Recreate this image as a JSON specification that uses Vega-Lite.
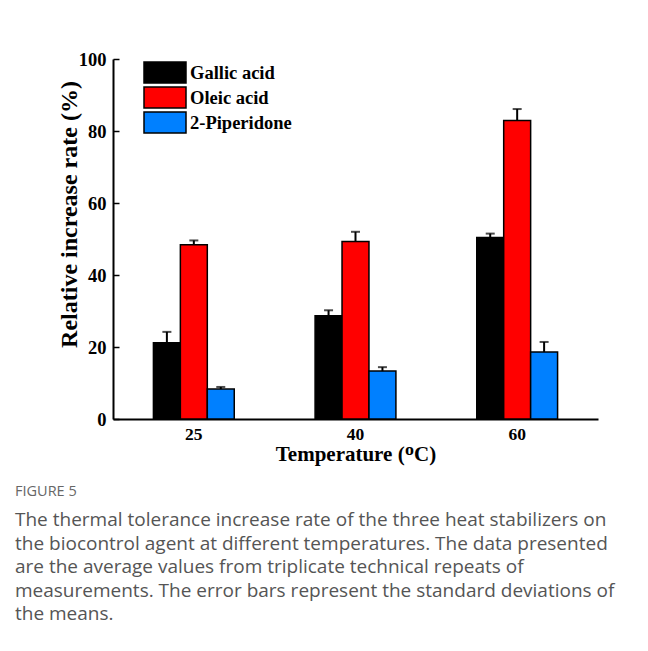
{
  "$schema": "https://vega.github.io/schema/vega-lite/v6.json",
  "autosize": {"type": "none"},
  "padding": {"left": 113, "top": 59, "right": 50, "bottom": 232},
  "width": 485,
  "height": 360,
  "background": "white",
  "config": {
    "view": {"stroke": null},
    "font": "Liberation Serif"
  },
  "title": {
    "text": "FIGURE 5",
    "subtitle": [
      "The thermal tolerance increase rate of the three heat stabilizers on",
      "the biocontrol agent at different temperatures. The data presented",
      "are the average values from triplicate technical repeats of",
      "measurements. The error bars represent the standard deviations of",
      "the means."
    ],
    "orient": "bottom",
    "anchor": "start",
    "frame": "group",
    "dx": -98,
    "offset": 20,
    "font": "Open Sans",
    "fontSize": 14.5,
    "fontWeight": "normal",
    "color": "#666666",
    "subtitleFont": "Open Sans",
    "subtitleFontSize": 19,
    "subtitleColor": "#555555",
    "subtitleLineHeight": 23.6,
    "subtitlePadding": 12
  },
  "data": {
    "values": [
      {"temp": "25", "compound": "Gallic acid", "mean": 21.2, "hi": 24.2},
      {"temp": "25", "compound": "Oleic acid", "mean": 48.4, "hi": 49.6},
      {"temp": "25", "compound": "2-Piperidone", "mean": 8.3, "hi": 8.9},
      {"temp": "40", "compound": "Gallic acid", "mean": 28.7, "hi": 30.2},
      {"temp": "40", "compound": "Oleic acid", "mean": 49.3, "hi": 52.0},
      {"temp": "40", "compound": "2-Piperidone", "mean": 13.3, "hi": 14.4},
      {"temp": "60", "compound": "Gallic acid", "mean": 50.4, "hi": 51.5},
      {"temp": "60", "compound": "Oleic acid", "mean": 82.9, "hi": 86.1},
      {"temp": "60", "compound": "2-Piperidone", "mean": 18.6, "hi": 21.4}
    ]
  },
  "encoding": {
    "x": {
      "field": "temp",
      "type": "nominal",
      "sort": ["25", "40", "60"],
      "scale": {"paddingInner": 0.5, "paddingOuter": 0.25},
      "axis": {
        "title": "Temperature (ᴼC)",
        "titleFont": "Liberation Serif",
        "titleFontSize": 21,
        "titleFontWeight": "bold",
        "titleColor": "black",
        "titlePadding": 1,
        "labelAngle": 0,
        "labelFont": "Liberation Serif",
        "labelFontSize": 17.5,
        "labelFontWeight": "bold",
        "labelColor": "black",
        "labelPadding": 11,
        "domainColor": "black",
        "domainWidth": 2,
        "tickColor": "black",
        "tickWidth": 1.5,
        "tickSize": -5
      }
    },
    "xOffset": {
      "field": "compound",
      "type": "nominal",
      "sort": ["Gallic acid", "Oleic acid", "2-Piperidone"],
      "scale": {"paddingInner": 0, "paddingOuter": 0}
    }
  },
  "layer": [
    {
      "mark": {"type": "bar", "stroke": "black", "strokeWidth": 1.5},
      "encoding": {
        "y": {
          "field": "mean",
          "type": "quantitative",
          "scale": {"domain": [0, 100], "nice": false},
          "axis": {
            "title": "Relative increase rate (%)",
            "titleFont": "Liberation Serif",
            "titleFontSize": 24,
            "titleFontWeight": "bold",
            "titleColor": "black",
            "titleY": 155,
            "titleX": -32,
            "titleBaseline": "bottom",
            "values": [0, 10, 20, 30, 40, 50, 60, 70, 80, 90, 100],
            "labelExpr": "datum.value % 20 === 0 ? datum.label : ''",
            "labelFont": "Liberation Serif",
            "labelFontSize": 18.5,
            "labelFontWeight": "bold",
            "labelColor": "black",
            "labelPadding": 13,
            "domainColor": "black",
            "domainWidth": 2,
            "tickColor": "black",
            "tickWidth": 1.5,
            "tickSize": {"condition": {"test": "datum.value % 20 === 0", "value": -6}, "value": -4},
            "grid": false
          }
        },
        "color": {
          "field": "compound",
          "type": "nominal",
          "sort": ["Gallic acid", "Oleic acid", "2-Piperidone"],
          "scale": {"domain": ["Gallic acid", "Oleic acid", "2-Piperidone"], "range": ["#000000", "#ff0000", "#0080ff"]},
          "legend": {
            "title": null,
            "orient": "none",
            "legendX": 40.5,
            "legendY": 2,
            "symbolType": "M-2,-1H2V1H-2Z",
            "symbolSize": 441,
            "symbolStrokeColor": "black",
            "symbolStrokeWidth": 1.5,
            "symbolOpacity": 1,
            "labelFont": "Liberation Serif",
            "labelFontSize": 18.5,
            "labelFontWeight": "bold",
            "labelColor": "black",
            "labelOffset": 13.5,
            "rowPadding": -2.5,
            "labelLimit": 300
          }
        }
      }
    },
    {
      "mark": {"type": "rule", "color": "black", "strokeWidth": 2},
      "encoding": {
        "y": {"field": "mean", "type": "quantitative"},
        "y2": {"field": "hi"}
      }
    },
    {
      "mark": {"type": "tick", "color": "black", "thickness": 2, "size": 9},
      "encoding": {
        "y": {"field": "hi", "type": "quantitative"}
      }
    }
  ]
}
